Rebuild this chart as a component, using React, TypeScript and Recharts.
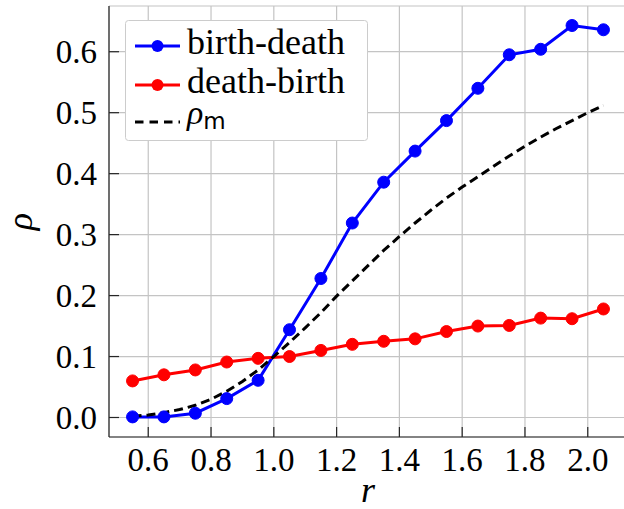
import { useLayoutEffect, useRef } from "react";
import { CartesianGrid, Label, Line, LineChart, XAxis, YAxis } from "recharts";

// simulated fixation probabilities, one point per fitness value r
const R_SIM = [0.55, 0.65, 0.75, 0.85, 0.95, 1.05, 1.15, 1.25, 1.35, 1.45, 1.55, 1.65, 1.75, 1.85, 1.95, 2.05];
const BIRTH_DEATH = [0.001, 0.001, 0.007, 0.031, 0.061, 0.144, 0.228, 0.319, 0.386, 0.437, 0.487, 0.54, 0.595, 0.604, 0.643, 0.636];
const DEATH_BIRTH = [0.06, 0.07, 0.078, 0.091, 0.097, 0.1, 0.11, 0.12, 0.125, 0.129, 0.141, 0.15, 0.151, 0.163, 0.162, 0.178];

// mean-field curve
const R_MEAN = [
  0.55, 0.6, 0.65, 0.7, 0.75, 0.8, 0.85, 0.9, 0.95, 1.0, 1.05, 1.1, 1.15, 1.2, 1.25, 1.3,
  1.35, 1.4, 1.45, 1.5, 1.55, 1.6, 1.65, 1.7, 1.75, 1.8, 1.85, 1.9, 1.95, 2.0, 2.05,
];
const RHO_M = [
  0.002, 0.004, 0.008, 0.013, 0.02, 0.03, 0.043, 0.059, 0.078, 0.1, 0.123, 0.147, 0.172, 0.199, 0.224, 0.249,
  0.274, 0.297, 0.319, 0.34, 0.36, 0.378, 0.395, 0.412, 0.429, 0.445, 0.46, 0.474, 0.487, 0.5, 0.512,
];

const X_TICKS = [0.6, 0.8, 1.0, 1.2, 1.4, 1.6, 1.8, 2.0];
const Y_TICKS = [0, 0.1, 0.2, 0.3, 0.4, 0.5, 0.6];

const bdData = R_SIM.map((r, i) => ({ r, v: BIRTH_DEATH[i] }));
const dbData = R_SIM.map((r, i) => ({ r, v: DEATH_BIRTH[i] }));
const mData = R_MEAN.map((r, i) => ({ r, v: RHO_M[i] }));

const SERIF = "Liberation Serif";
const SANS = "DejaVu Sans";
const tickStyle = { fontSize: 33, fill: "#000", fontFamily: SERIF };
const SPINE = { stroke: "#262626", strokeWidth: 1.2 };

// force the serif face on every label (the subscript keeps the sans face)
function applyFonts(root: HTMLElement | null) {
  if (!root) return;
  root.querySelectorAll("text").forEach((t) => {
    t.style.setProperty("font-family", `"${SERIF}"`, "important");
  });
  root.querySelectorAll("tspan.sub").forEach((t) => {
    (t as SVGElement).style.setProperty("font-family", `"${SANS}"`, "important");
    (t as SVGElement).style.setProperty("font-style", "normal", "important");
  });
}

function LegendBox() {
  return (
    <svg
      width={624}
      height={509}
      style={{ position: "absolute", left: 0, top: 0, pointerEvents: "none" }}
    >
      <rect x={125.5} y={20.5} width={242} height={120} rx={3} fill="#fff" stroke="#cccccc" />
      <line x1={135} x2={180} y1={46} y2={46} stroke="#0000ff" strokeWidth={3} />
      <circle cx={157.5} cy={46} r={6} fill="#0000ff" />
      <text x={187} y={54} fontSize={36} fontFamily={SERIF}>birth-death</text>
      <line x1={135} x2={180} y1={85} y2={85} stroke="#ff0000" strokeWidth={3} />
      <circle cx={157.5} cy={85} r={6} fill="#ff0000" />
      <text x={187} y={93} fontSize={36} fontFamily={SERIF}>death-birth</text>
      <line x1={135} x2={180} y1={122} y2={122} stroke="#000" strokeWidth={3} strokeDasharray="8.5 6" />
      <text x={187} y={124} fontSize={34} fontStyle="italic" fontFamily={SERIF}>
        ρ
        <tspan className="sub" fontSize={23} fontStyle="normal" fontFamily={SANS} dy={5}>m</tspan>
      </text>
    </svg>
  );
}

export default function App() {
  const rootRef = useRef<HTMLDivElement>(null);

  useLayoutEffect(() => {
    applyFonts(rootRef.current);
    const id = setTimeout(() => applyFonts(rootRef.current), 0);
    return () => clearTimeout(id);
  });

  return (
    <div
      ref={rootRef}
      style={{
        position: "absolute",
        left: 0,
        top: 0,
        width: 624,
        height: 509,
        overflow: "hidden",
        background: "#fff",
        fontFamily: SERIF,
      }}
    >
      <LineChart width={640} height={509} margin={{ top: 6, right: 13, bottom: 0, left: 0 }}>
        <CartesianGrid stroke="#c4c4c4" strokeWidth={1.2} />
        <XAxis
          dataKey="r"
          type="number"
          domain={[0.475, 2.125]}
          ticks={X_TICKS}
          allowDataOverflow
          height={72}
          tickSize={-10}
          tickMargin={21}
          tick={tickStyle}
          tickLine={SPINE}
          axisLine={SPINE}
          tickFormatter={(v: number) => v.toFixed(1)}
        >
          <Label
            content={({ viewBox }: any) => (
              <text
                x={viewBox.x + viewBox.width / 2}
                y={viewBox.y + 65}
                textAnchor="middle"
                fontSize={36}
                fontStyle="italic"
                fontFamily={SERIF}
              >
                r
              </text>
            )}
          />
        </XAxis>
        <XAxis
          xAxisId="top"
          orientation="top"
          dataKey="r"
          type="number"
          domain={[0.475, 2.125]}
          allowDataOverflow
          height={0}
          tick={false}
          tickLine={false}
          axisLine={SPINE}
        />
        <YAxis
          type="number"
          domain={[-0.032, 0.675]}
          ticks={Y_TICKS}
          allowDataOverflow
          width={109}
          tickSize={-10}
          tickMargin={22}
          tick={tickStyle}
          tickLine={SPINE}
          axisLine={SPINE}
          tickFormatter={(v: number) => v.toFixed(1)}
        >
          <Label
            content={({ viewBox }: any) => {
              const cx = 20;
              const cy = viewBox.y + viewBox.height / 2;
              return (
                <text
                  x={cx}
                  y={cy}
                  textAnchor="middle"
                  dominantBaseline="central"
                  fontSize={36}
                  fontStyle="italic"
                  fontFamily={SERIF}
                  transform={`rotate(-90 ${cx} ${cy})`}
                >
                  ρ
                </text>
              );
            }}
          />
        </YAxis>
        <YAxis
          yAxisId="right"
          orientation="right"
          width={0}
          tick={false}
          tickLine={false}
          axisLine={SPINE}
        />
        <Line
          data={bdData}
          dataKey="v"
          stroke="#0000ff"
          strokeWidth={3}
          dot={{ r: 6, fill: "#0000ff", stroke: "#0000ff", strokeWidth: 1 }}
          isAnimationActive={false}
        />
        <Line
          data={dbData}
          dataKey="v"
          stroke="#ff0000"
          strokeWidth={3}
          dot={{ r: 6, fill: "#ff0000", stroke: "#ff0000", strokeWidth: 1 }}
          isAnimationActive={false}
        />
        <Line
          data={mData}
          dataKey="v"
          stroke="#000"
          strokeWidth={3}
          strokeDasharray="9 5"
          dot={false}
          isAnimationActive={false}
        />
      </LineChart>
      <LegendBox />
    </div>
  );
}
